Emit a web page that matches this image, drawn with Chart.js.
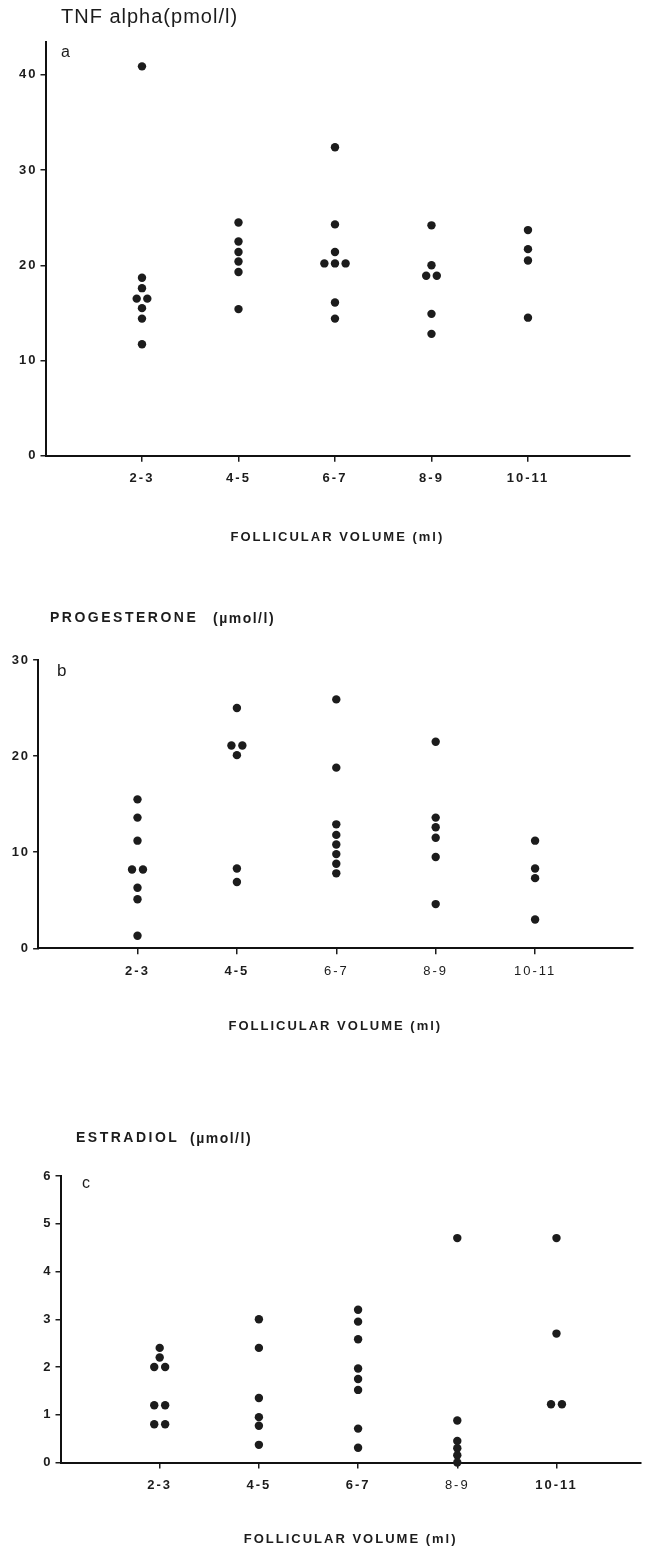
<!DOCTYPE html>
<html lang="en">
<head>
  <meta charset="UTF-8">
  <title>Follicular fluid levels by follicular volume</title>
  <script src="https://cdn.jsdelivr.net/npm/chart.js"></script>
  <style>
    body { margin: 0; background: #fff; }
    #page { position: relative; width: 645px; height: 1552px; }
    canvas { position: absolute; left: 0; }
    #chartA { top: 0; }
    #chartB { top: 560px; }
    #chartC { top: 1050px; }
  </style>
</head>
<body>
<div id="page">
  <canvas id="chartA" width="645" height="560"></canvas>
  <canvas id="chartB" width="645" height="490"></canvas>
  <canvas id="chartC" width="645" height="502"></canvas>
</div>
<script>
  // categories on the x axis
  const volumeGroups = ['2-3', '4-5', '6-7', '8-9', '10-11'];

  // one inner array per volume group
  const tnfAlpha = [
    [40.9, 18.7, 17.6, 16.5, 16.5, 15.5, 14.4, 11.7],
    [24.5, 22.5, 21.4, 20.4, 19.3, 15.4],
    [32.4, 24.3, 21.4, 20.2, 20.2, 20.2, 16.1, 14.4],
    [24.2, 20.0, 18.9, 18.9, 14.9, 12.8],
    [23.7, 21.7, 20.5, 14.5]
  ];
  const progesterone = [
    [15.5, 13.6, 11.2, 8.2, 8.2, 6.3, 5.1, 1.3],
    [25.0, 21.1, 21.1, 20.1, 8.3, 6.9],
    [25.9, 18.8, 12.9, 11.8, 10.8, 9.8, 8.8, 7.8],
    [21.5, 13.6, 12.6, 11.5, 9.5, 4.6],
    [11.2, 8.3, 7.3, 3.0]
  ];
  const estradiol = [
    [2.4, 2.2, 2.0, 2.0, 1.2, 1.2, 0.8, 0.8],
    [3.0, 2.4, 1.35, 0.95, 0.77, 0.37],
    [3.2, 2.95, 2.58, 1.97, 1.75, 1.52, 0.71, 0.31],
    [4.7, 0.88, 0.45, 0.3, 0.15, 0.0],
    [4.7, 2.7, 1.22, 1.22]
  ];

  // y tick labels
  const tnfTicks = [0, 10, 20, 30, 40];
  const progTicks = [0, 10, 20, 30];
  const estrTicks = [0, 1, 2, 3, 4, 5, 6];

  const FONT = '"Liberation Sans", Arial, Helvetica, sans-serif';
  const INK = '#1c1c1c';

  // equal values in one group sit side by side, like the dots in the figure
  function toPoints(groups) {
    const pts = [];
    groups.forEach((vals, g) => {
      const count = {}, used = {};
      vals.forEach(v => { count[v] = (count[v] || 0) + 1; });
      vals.forEach(v => {
        const i = used[v] || 0;
        used[v] = i + 1;
        pts.push({ x: g + 1 + (i - (count[v] - 1) / 2) * 0.11, y: v });
      });
    });
    return pts;
  }

  // headings, panel letters, and letter spacing for the axis text
  const panelText = {
    id: 'panelText',
    beforeDraw(chart, args, opts) {
      chart.ctx.letterSpacing = opts.tickSpacing || '0px';
    },
    afterDraw(chart, args, opts) {
      const ctx = chart.ctx;
      ctx.save();
      ctx.fillStyle = INK;
      ctx.textBaseline = 'middle';
      ctx.textAlign = 'left';
      opts.items.forEach(t => {
        ctx.font = t.font;
        ctx.letterSpacing = t.spacing || '0px';
        ctx.fillText(t.text, t.x, t.y);
      });
      ctx.restore();
    }
  };

  function makePanel(id, p) {
    return new Chart(document.getElementById(id), {
      type: 'scatter',
      data: {
        datasets: [{
          data: toPoints(p.values),
          backgroundColor: INK,
          borderWidth: 0,
          pointRadius: 4.2,
          pointHoverRadius: 4.2,
          clip: false
        }]
      },
      options: {
        responsive: false,
        animation: false,
        events: [],
        layout: { padding: { top: p.top, right: p.right, bottom: 0, left: 0 } },
        plugins: {
          legend: { display: false },
          tooltip: { enabled: false },
          panelText: { items: p.text, tickSpacing: '2px' }
        },
        scales: {
          x: {
            type: 'linear',
            min: 0,
            max: p.xMax,
            afterFit: s => { s.height = p.xHeight; },
            afterBuildTicks: s => { s.ticks = volumeGroups.map((_, i) => ({ value: i + 1 })); },
            ticks: {
              callback: (v, i) => volumeGroups[i],
              autoSkip: false,
              maxRotation: 0,
              padding: p.xPad,
              color: INK,
              font: c => ({ family: FONT, size: 13, weight: p.boldX(c.index) ? 'bold' : 'normal' })
            },
            grid: { drawOnChartArea: false, drawTicks: true, tickLength: 6, color: INK, lineWidth: 1.5 },
            border: { color: '#111', width: 2 },
            title: {
              display: true,
              text: 'FOLLICULAR VOLUME (ml)',
              color: INK,
              font: { family: FONT, size: 13, weight: 'bold' },
              padding: { top: 0, bottom: p.titlePad }
            }
          },
          y: {
            min: 0,
            max: p.yMax,
            afterFit: s => { s.width = p.left; },
            afterBuildTicks: s => { s.ticks = p.yTicks.map(v => ({ value: v })); },
            ticks: { padding: 3, color: INK, font: { family: FONT, size: 13, weight: 'bold' } },
            grid: { drawOnChartArea: false, drawTicks: true, tickLength: 5, color: INK, lineWidth: 1.5 },
            border: { color: '#111', width: 2 }
          }
        }
      },
      plugins: [panelText]
    });
  }

  makePanel('chartA', {
    values: tnfAlpha, yTicks: tnfTicks, yMax: 43.5, xMax: 6.05,
    top: 41.6, right: 15.7, left: 45.5, xHeight: 104.3, xPad: 8.5, titlePad: 15,
    boldX: () => true,
    text: [
      { text: 'TNF alpha(pmol/l)', x: 61, y: 17, font: '20px ' + FONT, spacing: '1px' },
      { text: 'a', x: 61, y: 53, font: '16px ' + FONT }
    ]
  });

  makePanel('chartB', {
    values: progesterone, yTicks: progTicks, yMax: 30, xMax: 5.98,
    top: 100, right: 12.5, left: 38.1, xHeight: 101.7, xPad: 9.6, titlePad: 16,
    boldX: i => i < 2,
    text: [
      { text: 'PROGESTERONE', x: 50, y: 58, font: 'bold 14px ' + FONT, spacing: '2.5px' },
      { text: '(µmol/l)', x: 213, y: 59, font: 'bold 14px ' + FONT, spacing: '1.5px' },
      { text: 'b', x: 57, y: 111, font: '17px ' + FONT }
    ]
  });

  makePanel('chartC', {
    values: estradiol, yTicks: estrTicks, yMax: 6, xMax: 5.85,
    top: 126, right: 1, left: 60.5, xHeight: 89.5, xPad: 8.7, titlePad: 5,
    boldX: i => i !== 3,
    text: [
      { text: 'ESTRADIOL', x: 76, y: 88, font: 'bold 14px ' + FONT, spacing: '2.5px' },
      { text: '(µmol/l)', x: 190, y: 89, font: 'bold 14px ' + FONT, spacing: '1.5px' },
      { text: 'c', x: 82, y: 134, font: '16px ' + FONT }
    ]
  });
</script>
</body>
</html>
